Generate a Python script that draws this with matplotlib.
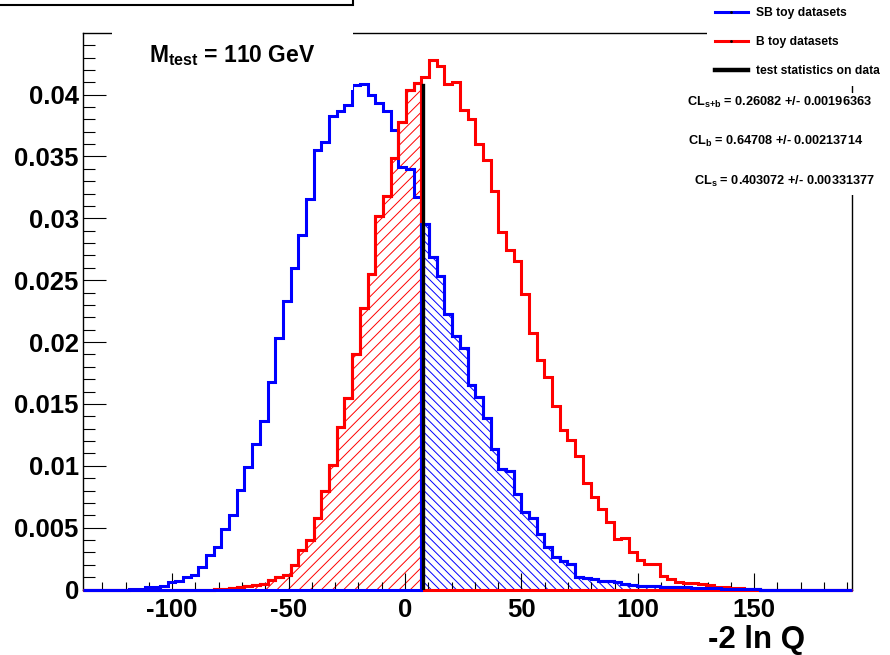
import matplotlib
matplotlib.use('Agg')
import matplotlib.pyplot as plt
from matplotlib.patches import Rectangle
from matplotlib.lines import Line2D
from matplotlib.ticker import MultipleLocator, FuncFormatter
import numpy as np

plt.rcParams['font.family'] = 'Liberation Sans'
plt.rcParams['font.weight'] = 'bold'
plt.rcParams['axes.unicode_minus'] = False
plt.rcParams['mathtext.fontset'] = 'custom'
plt.rcParams['mathtext.rm'] = 'Liberation Sans:bold'
plt.rcParams['mathtext.it'] = 'Liberation Sans:bold'
plt.rcParams['mathtext.bf'] = 'Liberation Sans:bold'
plt.rcParams['mathtext.default'] = 'rm'
plt.rcParams['hatch.linewidth'] = 0.7

# histogram range / binning (100 bins)
x_min, x_max, n_bins = -138.3, 192.0, 100
test_stat = 7.6
data_line_height = 0.0408

# SB toy datasets, bin contents (normalised)
sb_toys = [
    0, 0, 0, 0, 0, 0, 0.00003, 0.00006, 0.0002, 0.0002,
    0.0003, 0.0006, 0.0007, 0.001, 0.0012, 0.0018, 0.00278, 0.00345, 0.00493, 0.00601,
    0.00802, 0.0099, 0.01176, 0.01361, 0.01676, 0.02034, 0.02328, 0.02601, 0.02866, 0.0316,
    0.03556, 0.03615, 0.03829, 0.03871, 0.0392, 0.04081, 0.04082, 0.04, 0.0393, 0.03869,
    0.03716, 0.03418, 0.034, 0.03173, 0.02958, 0.02685, 0.0253, 0.02228, 0.0205, 0.01955,
    0.0165, 0.01553, 0.01385, 0.01132, 0.00975, 0.00954, 0.0077, 0.00623, 0.00575, 0.0045,
    0.00341, 0.00265, 0.00228, 0.00208, 0.00104, 0.00095, 0.00081, 0.0007, 0.00065, 0.00063,
    0.00045, 0.0004, 0.0003, 0.00028, 0.00028, 0.0002, 0.00018, 0.00018, 0.00018, 0.00015,
    0.0001, 0.0001, 0.0001, 0.00008, 0.00006, 0.00005, 0.00004, 0.00003, 0, 0,
    0, 0, 0, 0, 0, 0, 0, 0, 0, 0,
]

# B toy datasets, bin contents (normalised)
b_toys = [
    0, 0, 0, 0, 0, 0, 0, 0, 0, 0,
    0, 0, 0, 0, 0, 0, 0, 0.00003, 0.00005, 0.0001,
    0.00018, 0.00025, 0.00035, 0.00045, 0.00075, 0.001, 0.0012, 0.002, 0.00319, 0.00399,
    0.00574, 0.00797, 0.01004, 0.01313, 0.0155, 0.01905, 0.02276, 0.0255, 0.0302, 0.03181,
    0.03485, 0.03778, 0.04034, 0.04095, 0.04141, 0.04284, 0.0423, 0.04082, 0.04101, 0.03872,
    0.038, 0.03598, 0.03469, 0.03222, 0.02886, 0.02745, 0.02654, 0.02386, 0.02075, 0.01854,
    0.01716, 0.01481, 0.01291, 0.01207, 0.01077, 0.00859, 0.00746, 0.00647, 0.00547, 0.00408,
    0.00413, 0.003, 0.00238, 0.00203, 0.00203, 0.00112, 0.00086, 0.00063, 0.00053, 0.0005,
    0.00044, 0.00035, 0.00023, 0.0002, 0.00015, 0.0001, 0.00005, 0.00003, 0, 0,
    0, 0, 0, 0, 0, 0, 0, 0, 0, 0,
]

legend_labels = ['SB toy datasets', 'B toy datasets', 'test statistics on data']
cl_texts = [r'CL$_{s{+}b}$ = 0.26082 +/- 0.00196363',
            r'CL$_{b}$ = 0.64708 +/- 0.00213714',
            r'CL$_{s}$ = 0.403072 +/- 0.00331377']
mass_text = r'M$_{test}$ = 110 GeV'
x_title = '-2 ln Q'

W, H = 890, 655


def fpos(x, y):
    # pixel position -> figure fraction
    return x / W, 1 - y / H


sb = np.array(sb_toys)
b = np.array(b_toys)
edges = np.linspace(x_min, x_max, n_bins + 1)
centers = 0.5 * (edges[:-1] + edges[1:])

fig = plt.figure(figsize=(W / 100, H / 100), dpi=100)
ax = fig.add_axes([83 / W, 1 - 589.5 / H, (852 - 83) / W, (589.5 - 33) / H])

# hatched areas left / right of the observed test statistic
k = np.searchsorted(edges, test_stat)
xl = np.append(edges[:k], test_stat)
yl = np.append(b[:k], b[k - 1])
ax.fill_between(xl, yl, step='post', facecolor='none', edgecolor='red',
                hatch='///', linewidth=0, zorder=1)
xr = np.insert(edges[k:], 0, test_stat)
yr = np.append(sb[k - 1:], sb[-1])
ax.fill_between(xr, yr, step='post', facecolor='none', edgecolor='blue',
                hatch='\\\\\\\\', linewidth=0, zorder=1)

lw = 2.2
ax.stairs(sb, edges, color='blue', lw=lw, zorder=3, clip_on=False)
ax.stairs(b, edges, color='red', lw=lw, zorder=3, clip_on=False)
ax.stairs(np.where(centers < test_stat, b, 0), edges, color='red', lw=lw,
          zorder=3, clip_on=False)
ax.stairs(np.where(centers > test_stat, sb, 0), edges, color='blue', lw=lw,
          zorder=3, clip_on=False)
ax.plot([test_stat, test_stat], [0, data_line_height], color='black', lw=2.4,
        zorder=4)

ax.set_xlim(x_min, x_max)
ax.set_ylim(0, 1.05 * b.max())

ax.xaxis.set_major_locator(MultipleLocator(50))
ax.xaxis.set_minor_locator(MultipleLocator(10))
ax.yaxis.set_major_locator(MultipleLocator(0.005))
ax.yaxis.set_minor_locator(MultipleLocator(0.001))
ax.yaxis.set_major_formatter(FuncFormatter(lambda v, p: '%g' % round(v, 4)))
ax.xaxis.set_major_formatter(FuncFormatter(lambda v, p: '%g' % v))

ax.tick_params(axis='both', which='both', direction='in', top=False,
               right=False, width=0.8, labelsize=18.5)
ax.tick_params(axis='x', which='major', length=12, pad=6)
ax.tick_params(axis='x', which='minor', length=6)
ax.tick_params(axis='y', which='major', length=16.5, pad=3)
ax.tick_params(axis='y', which='minor', length=8.5)
for s in ax.spines.values():
    s.set_linewidth(1.0)

# x axis title
fig.text(*fpos(805, 648), x_title, ha='right', va='baseline', fontsize=22.5,
         fontweight='bold')

# white pave with mass text (hides frame top)
fig.add_artist(Rectangle(fpos(112, 90), (353 - 112) / W, 80 / H,
                         transform=fig.transFigure, facecolor='white',
                         edgecolor='none', zorder=5))
fig.text(*fpos(149, 62.3), mass_text, ha='left', va='baseline', fontsize=16.5,
         zorder=6)

# title pave at top left (cut off)
fig.add_artist(Rectangle(fpos(-5, 5), 358 / W, 20 / H,
                         transform=fig.transFigure, facecolor='white',
                         edgecolor='black', lw=1.5, zorder=5))

# legend pave
fig.add_artist(Rectangle(fpos(707, 86), 200 / W, 100 / H,
                         transform=fig.transFigure, facecolor='white',
                         edgecolor='none', zorder=5))
leg_y = [12.3, 41, 70]
leg_col = ['blue', 'red', 'black']
leg_lw = [2.2, 2.2, 3.2]
for i, lab in enumerate(legend_labels):
    x0, y0 = fpos(715, leg_y[i])
    x1, _ = fpos(748, leg_y[i])
    fig.add_artist(Line2D([x0, x1], [y0, y0], color=leg_col[i], lw=leg_lw[i],
                          transform=fig.transFigure, zorder=6))
    if i < 2:
        fig.add_artist(Line2D([(x0 + x1) / 2], [y0], marker='.', ms=2,
                              color='black', transform=fig.transFigure,
                              zorder=7))
    fig.text(*fpos(756, leg_y[i] + 3.5), lab, ha='left', va='baseline',
             fontsize=8.7, zorder=6)

# CL pave
fig.add_artist(Rectangle(fpos(680, 195), 220 / W, 102 / H,
                         transform=fig.transFigure, facecolor='white',
                         edgecolor='none', zorder=5))
cl_x = [687, 688, 694]
cl_y = [106, 145, 185]
for i, t in enumerate(cl_texts):
    fig.text(*fpos(cl_x[i], cl_y[i]), t, ha='left', va='baseline',
             fontsize=9.2, zorder=6)

plt.savefig('out.png', dpi=100)
